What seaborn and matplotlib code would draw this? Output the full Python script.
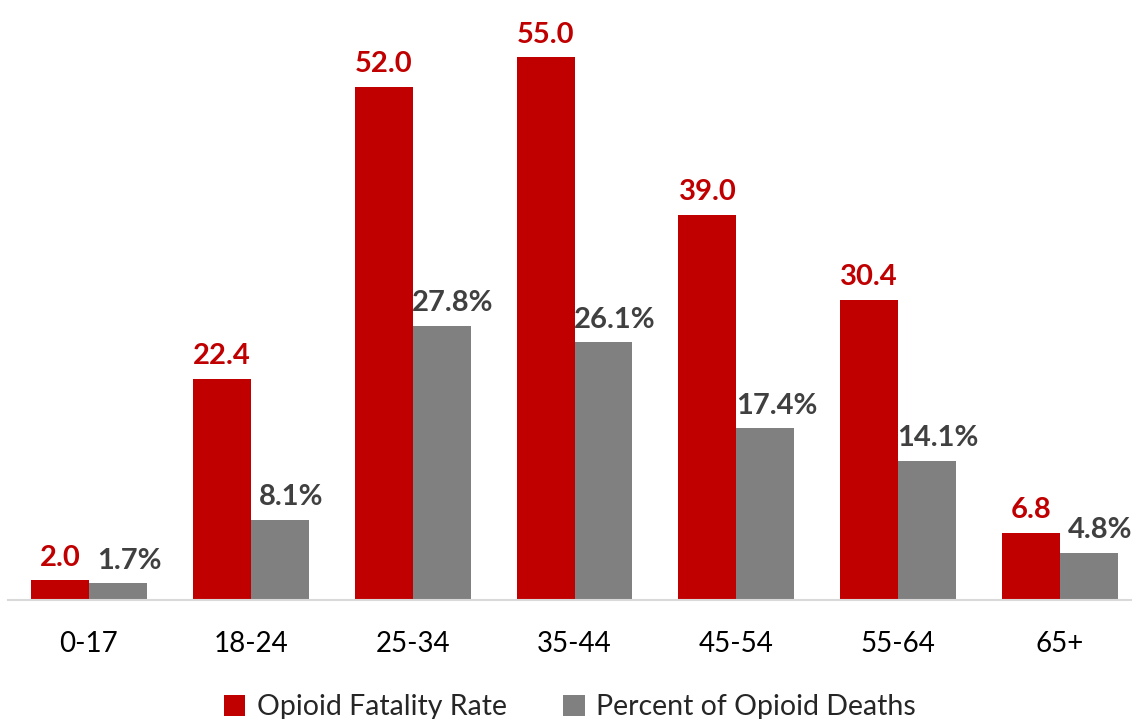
import pandas as pd
import matplotlib
matplotlib.use('Agg')
import matplotlib.pyplot as plt
import seaborn as sns

AGE_GROUPS = ['0-17', '18-24', '25-34', '35-44', '45-54', '55-64', '65+']
FATALITY_RATE = [2.0, 22.4, 52.0, 55.0, 39.0, 30.4, 6.8]
PCT_DEATHS = [1.7, 8.1, 27.8, 26.1, 17.4, 14.1, 4.8]
SERIES = ['Opioid Fatality Rate', 'Percent of Opioid Deaths']
COLORS = ['#C00000', '#808080']
LABEL_COLORS = ['#C00000', '#404040']

df = pd.DataFrame({
    'age': AGE_GROUPS * 2,
    'value': FATALITY_RATE + PCT_DEATHS,
    'series': [SERIES[0]] * len(AGE_GROUPS) + [SERIES[1]] * len(AGE_GROUPS),
})

sns.set_theme(style='white')
plt.rcParams['font.family'] = ['Lato', 'DejaVu Sans']

fig = plt.figure(figsize=(11.32, 7.19), dpi=100)
ax = fig.add_axes([8 / 1132, 119 / 719, 1133 / 1132, 592 / 719])

sns.barplot(data=df, x='age', y='value', hue='series', palette=COLORS,
            width=0.716, ax=ax, legend=True, saturation=1, linewidth=0)

ax.set_ylim(0, 60)
ax.set_xlim(-0.5, 6.5)
ax.set_xlabel('')
ax.set_ylabel('')
ax.set_yticks([])
for s in ['top', 'right', 'left']:
    ax.spines[s].set_visible(False)
ax.spines['bottom'].set_color('#D9D9D9')
ax.spines['bottom'].set_linewidth(1.5)
ax.tick_params(axis='x', length=0, pad=22, labelsize=20, labelcolor='black')

for i, cont in enumerate(ax.containers):
    fmt = '{:.1f}' if i == 0 else '{:.1f}%'
    labels = [fmt.format(v) for v in cont.datavalues]
    texts = ax.bar_label(cont, labels=labels, padding=7, fontsize=21, fontweight='bold',
                         color=LABEL_COLORS[i])
    if i == 1:
        for t in texts:
            t.xyann = (8, 7)

ax.legend(loc='upper center', bbox_to_anchor=(0.5 - 8 / 1132 + 0.003, -0.14),
          ncol=2, frameon=False, fontsize=20.5, handlelength=0.75, handleheight=0.75,
          handletextpad=0.4, columnspacing=2.0, borderaxespad=0)

fig.savefig('out.png', dpi=100)
